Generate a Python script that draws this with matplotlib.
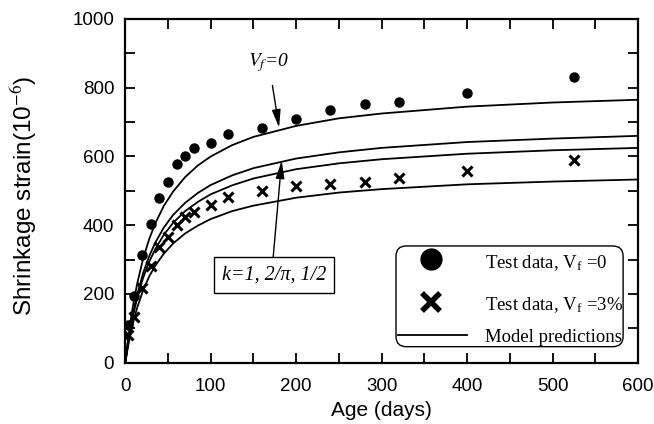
import matplotlib
matplotlib.use('Agg')
import matplotlib.pyplot as plt
from matplotlib.patches import FancyBboxPatch

plt.rcParams['font.family'] = ['Liberation Sans', 'DejaVu Sans']
plt.rcParams['mathtext.fontset'] = 'stix'

# Test data (age in days, strain in 1e-6)
age_plain = [3, 10, 20, 30, 40, 50, 60, 70, 80, 100, 120, 160, 200, 240, 280, 320, 400, 525]
strain_plain = [110, 195, 313, 403, 478, 526, 577, 602, 626, 640, 664, 682, 710, 735, 752, 758, 784, 830]

age_fiber = [3, 10, 20, 30, 40, 50, 60, 70, 80, 100, 120, 160, 200, 240, 280, 320, 400, 525]
strain_fiber = [80, 134, 218, 281, 338, 367, 400, 425, 439, 459, 483, 500, 514, 521, 525, 538, 558, 590]

# Model prediction curves
age_model = [0, 3, 7, 10, 14, 21, 28, 35, 45, 56, 70, 85, 100, 125, 150, 200, 250, 300, 400, 500, 600]
model_plain = [0, 64, 135, 180, 231, 304, 360, 405, 456, 498, 540, 574, 600, 633, 657, 689, 711, 725, 745, 757, 765]
model_k1 = [0, 55, 116, 155, 199, 262, 310, 349, 393, 430, 465, 494, 517, 545, 566, 594, 612, 625, 642, 652, 660]
model_k2pi = [0, 52, 110, 147, 189, 248, 294, 330, 372, 407, 441, 468, 490, 516, 536, 563, 580, 592, 608, 618, 625]
model_khalf = [0, 45, 94, 125, 161, 212, 251, 282, 317, 347, 376, 399, 418, 441, 457, 480, 495, 505, 519, 527, 533]

legend_labels = ['Test data, V$_{\\mathregular{f}}$ =0',
                 'Test data, V$_{\\mathregular{f}}$ =3%',
                 'Model predictions']

fig = plt.figure(figsize=(6.54, 4.24), dpi=100)
ax = fig.add_axes([0.1916, 0.1446, 0.7839, 0.8106])

for curve in [model_plain, model_k1, model_k2pi, model_khalf]:
    ax.plot(age_model, curve, color='black', lw=1.3)

ax.plot(age_plain, strain_plain, 'o', color='black', markersize=6.5, ls='none')
ax.plot(age_fiber, strain_fiber, 'x', color='black', markersize=7, mew=2.2, ls='none')

ax.set_xlim(0, 600)
ax.set_ylim(0, 1000)
ax.set_xticks(range(0, 601, 100))
ax.set_xticks(range(50, 600, 100), minor=True)
ax.set_yticks(range(0, 1001, 200))
ax.set_yticks(range(100, 1000, 200), minor=True)
ax.tick_params(which='both', direction='in', length=7.5, width=1.3,
               top=True, right=True, labelsize=13.5)
ax.tick_params(axis='x', pad=11)
ax.tick_params(axis='y', pad=8)
for s in ax.spines.values():
    s.set_linewidth(1.6)

ax.set_xlabel('Age (days)', fontsize=15, labelpad=4)
ax.set_ylabel('Shrinkage strain(10$^{-6}$)', fontsize=17.5)
ax.yaxis.set_label_coords(-0.168, 0.485)

serif = 'Liberation Serif'
arrow = dict(arrowstyle='-|>,head_length=0.9,head_width=0.22', color='black', lw=1.0,
             mutation_scale=12, shrinkA=0, shrinkB=0)
ax.annotate('$V_f$=0', xy=(180, 684), xytext=(168, 872),
            fontsize=14, family=serif, style='italic', ha='center', va='center',
            arrowprops=dict(arrow, shrinkA=6))
ax.annotate('', xy=(183, 588), xytext=(173, 305), arrowprops=arrow)
ax.text(174, 255, 'k=1, 2/\u03c0, 1/2', fontsize=14.5, family=serif, style='italic',
        ha='center', va='center',
        bbox=dict(boxstyle='square,pad=0.4', fc='white', ec='black', lw=1.0))

# legend drawn by hand in axes coordinates
box = FancyBboxPatch((0.528, 0.0466), 0.443, 0.293, transform=ax.transAxes,
                     boxstyle='round,pad=0,rounding_size=0.02', mutation_aspect=1.49,
                     fc='white', ec='black', lw=1.0, zorder=5)
ax.add_patch(box)
ax.plot([0.596], [0.302], 'o', color='black', markersize=15, transform=ax.transAxes, zorder=6)
ax.plot([0.596], [0.178], 'x', color='black', markersize=13, mew=4, transform=ax.transAxes, zorder=6)
ax.plot([0.532, 0.666], [0.0806, 0.0806], color='black', lw=1.3, transform=ax.transAxes, zorder=6)
for label, yb in zip(legend_labels, [0.2746, 0.1533, 0.0611]):
    ax.text(0.7016, yb, label, transform=ax.transAxes, family=serif, fontsize=13.5,
            va='baseline', ha='left', zorder=6)

fig.savefig('out.png', dpi=100)
